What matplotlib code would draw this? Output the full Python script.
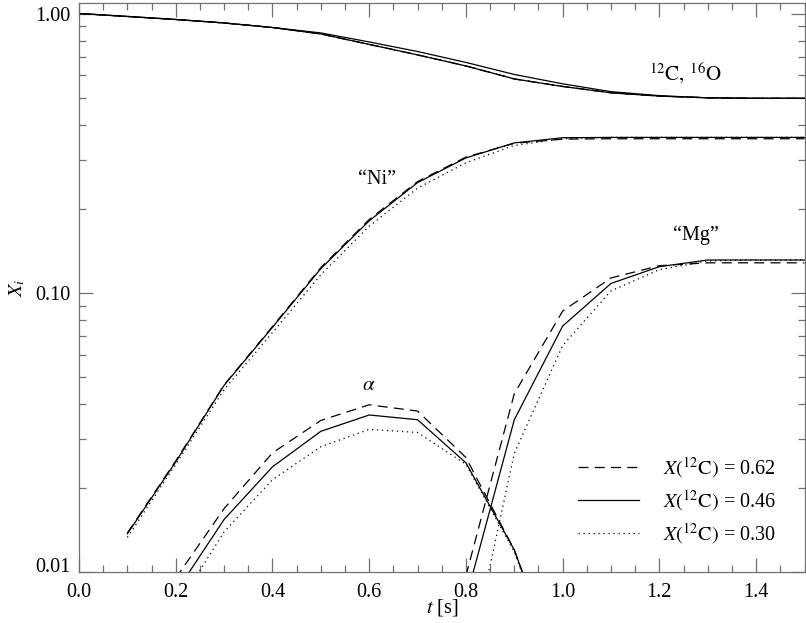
"""
abundance evolution X_i(t) for three initial carbon fractions
outputs: out.png
"""

import matplotlib

matplotlib.use("Agg")
import matplotlib.pyplot as plt
from matplotlib.ticker import FixedLocator, MultipleLocator, FuncFormatter, LogLocator, NullFormatter


# -- DATA --
t_co = [0.0, 0.1, 0.2, 0.3, 0.4, 0.5, 0.6, 0.7, 0.8, 0.9, 1.0, 1.1, 1.2, 1.3, 1.4, 1.5]
co_upper = [1.0, 0.976, 0.952, 0.925, 0.891, 0.852, 0.791, 0.731, 0.668, 0.605,
            0.560, 0.525, 0.508, 0.499, 0.497, 0.497]
co_lower = [1.0, 0.976, 0.952, 0.925, 0.891, 0.845, 0.775, 0.711, 0.649, 0.583,
            0.548, 0.520, 0.506, 0.499, 0.497, 0.497]

t_ni = [0.1, 0.2, 0.3, 0.4, 0.5, 0.6, 0.7, 0.8, 0.9, 1.0, 1.1, 1.2, 1.3, 1.4, 1.5]
ni_062 = [0.0138, 0.0250, 0.0468, 0.0757, 0.123, 0.183, 0.250, 0.306, 0.343, 0.355,
          0.356, 0.356, 0.356, 0.356, 0.356]
ni_046 = [0.0137, 0.0248, 0.0466, 0.0752, 0.122, 0.181, 0.248, 0.304, 0.344, 0.359,
          0.360, 0.360, 0.360, 0.360, 0.360]
ni_030 = [0.0133, 0.0243, 0.0450, 0.0720, 0.116, 0.173, 0.237, 0.292, 0.337, 0.356,
          0.360, 0.360, 0.360, 0.360, 0.360]

t_mg = [0.8, 0.9, 1.0, 1.1, 1.2, 1.3, 1.4, 1.5]
mg_062 = [0.0097, 0.0435, 0.086, 0.113, 0.125, 0.128, 0.128, 0.128]
mg_046 = [0.0080, 0.0351, 0.076, 0.108, 0.124, 0.131, 0.131, 0.131]
mg_030 = [0.0042, 0.0266, 0.0647, 0.1016, 0.121, 0.130, 0.131, 0.131]

t_he = [0.2, 0.3, 0.4, 0.5, 0.6, 0.7, 0.8, 0.9, 1.0]
he_062 = [0.0095, 0.01687, 0.0267, 0.0349, 0.0397, 0.0377, 0.0257, 0.0120, 0.0040]
he_046 = [0.00845, 0.01542, 0.0238, 0.0319, 0.0365, 0.0351, 0.0246, 0.0120, 0.0040]
he_030 = [0.00736, 0.01393, 0.0214, 0.0281, 0.0324, 0.0316, 0.0243, 0.0118, 0.0040]

labels = [r"$X(^{12}\mathrm{C})$ = 0.62", r"$X(^{12}\mathrm{C})$ = 0.46", r"$X(^{12}\mathrm{C})$ = 0.30"]


# -- STYLE --
plt.rcParams["font.family"] = ["Liberation Serif", "DejaVu Serif"]
plt.rcParams["mathtext.fontset"] = "stix"
plt.rcParams["font.size"] = 14

AXIS_GREY = "#707070"
LW = 0.9
styles = [
    dict(color="black", lw=LW, dashes=[8, 5]),
    dict(color="black", lw=LW, linestyle="-"),
    dict(color="black", lw=LW, dashes=[1, 3]),
]


# -- PLOT --
fig = plt.figure(figsize=(8.06, 6.23), dpi=100)
ax = fig.add_axes([79 / 806, 51 / 623, 725.5 / 806, 569.5 / 623])

# carbon / oxygen pair
ax.plot(t_co, co_upper, **styles[1])
for st in styles:
    ax.plot(t_co, co_lower, **st)

for st, ni, mg, he, lab in zip(
    styles, [ni_062, ni_046, ni_030], [mg_062, mg_046, mg_030], [he_062, he_046, he_030], labels
):
    ax.plot(t_ni, ni, **st, label=lab)
    ax.plot(t_mg, mg, **st)
    ax.plot(t_he, he, **st)

ax.set_yscale("log")
ax.set_xlim(0, 1.5)
ax.set_ylim(0.01, 1.095)

ax.xaxis.set_major_locator(MultipleLocator(0.2))
ax.xaxis.set_minor_locator(MultipleLocator(0.05))
ax.xaxis.set_major_formatter(FuncFormatter(lambda v, p: f"{v:.1f}"))
ax.yaxis.set_major_locator(FixedLocator([0.01, 0.1, 1.0]))
ax.yaxis.set_minor_locator(LogLocator(base=10, subs=range(2, 10)))
ax.yaxis.set_major_formatter(FuncFormatter(lambda v, p: f"{v:.2f}"))
ax.yaxis.set_minor_formatter(NullFormatter())

ax.tick_params(which="both", direction="in", top=True, right=True, color=AXIS_GREY,
               labelsize=14.5, width=0.9)
ax.tick_params(which="major", length=10)
ax.tick_params(which="minor", length=5)
ax.tick_params(axis="x", which="major", pad=8)
ax.tick_params(axis="y", which="major", pad=6)
for sp in ax.spines.values():
    sp.set_color(AXIS_GREY)
    sp.set_linewidth(0.9)

# lowest y label sits on the axis line rather than centred on it
ax.yaxis.get_major_ticks()[0].label1.set_verticalalignment("baseline")

ax.set_xlabel(r"$t$ [s]", fontsize=14.5, labelpad=-4)
ax.set_ylabel(r"$X_i$", fontsize=14.5, labelpad=6)

# curve labels
ax.text(1.254, 0.612, r"$^{12}\mathrm{C},\,^{16}\mathrm{O}$", fontsize=15, ha="center", va="center")
ax.text(0.617, 0.255, "\u201cNi\u201d", fontsize=14.5, ha="center", va="center")
ax.text(1.276, 0.160, "\u201cMg\u201d", fontsize=14.5, ha="center", va="center")
ax.text(0.6, 0.0466, r"$\alpha$", fontsize=15, ha="center", va="center")

ax.legend(
    loc="lower right",
    bbox_to_anchor=(0.9745, 0.028),
    frameon=False,
    fontsize=14.5,
    handlelength=3.0,
    handletextpad=1.2,
    labelspacing=0.41,
    borderpad=0,
)

fig.savefig("out.png", dpi=100)
